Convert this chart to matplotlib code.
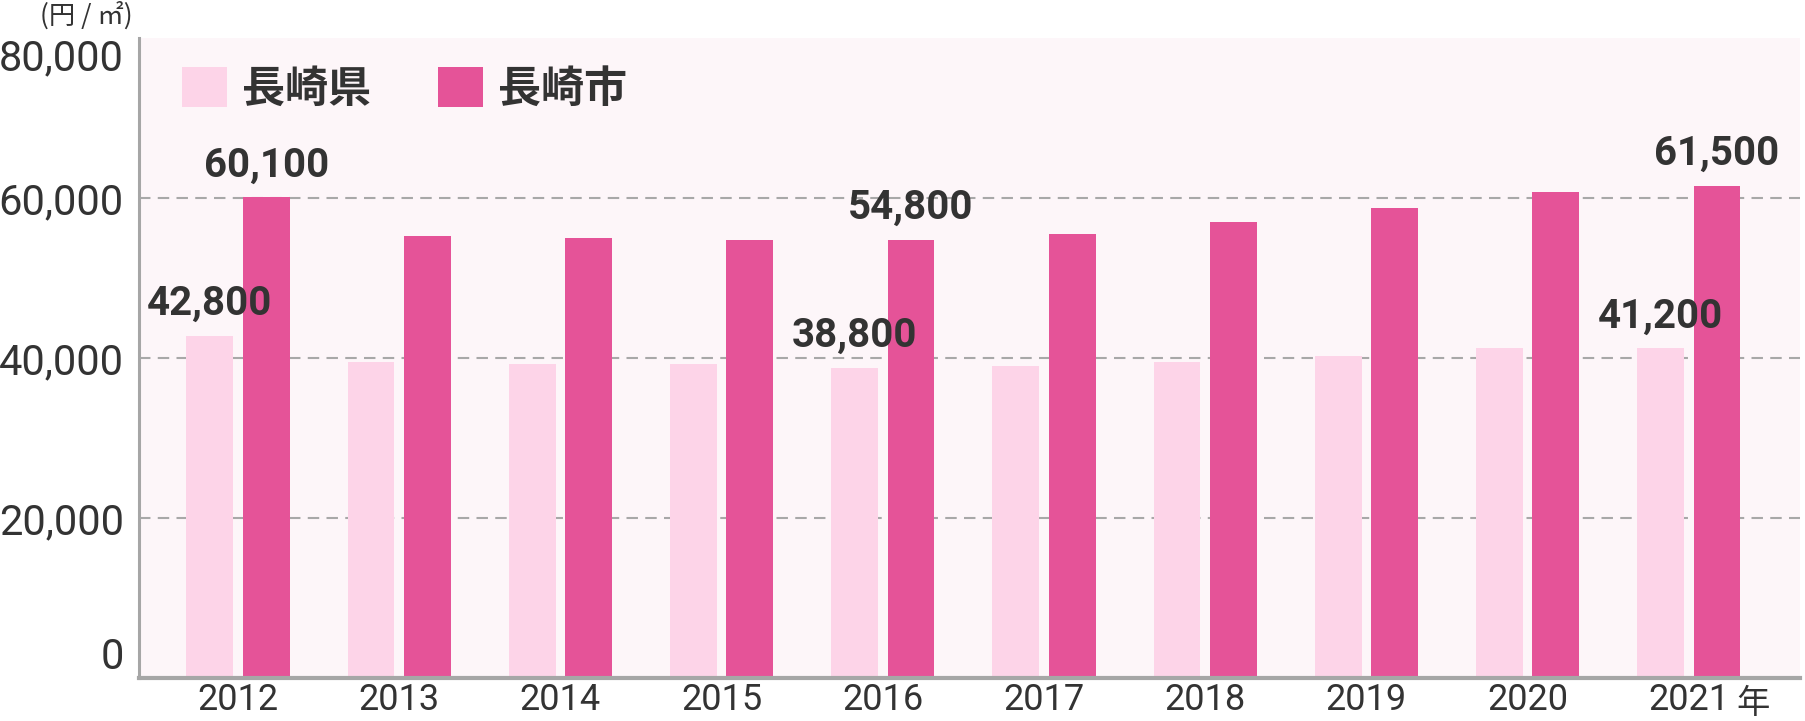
import matplotlib
matplotlib.use("Agg")
import matplotlib.pyplot as plt
import numpy as np
from matplotlib.patches import Patch

# ---- data ----
years = ["2012", "2013", "2014", "2015", "2016", "2017", "2018", "2019", "2020", "2021"]
pref_values = [42800, 39500, 39200, 39200, 38800, 39000, 39500, 40300, 41200, 41200]   # 長崎県
city_values = [60100, 55200, 55000, 54800, 54800, 55500, 57000, 58700, 60700, 61500]   # 長崎市
labeled_idx = [0, 4, 9]
series_names = ["長崎県", "長崎市"]
y_ticks = [0, 20000, 40000, 60000, 80000]
unit_label = "(円 / ㎡)"
x_unit = "年"

# ---- style ----
C_LIGHT = "#fdd4e8"
C_DARK = "#e55398"
C_BG = "#fdf6f9"
C_TEXT = "#333333"
C_AXIS = "#a6a6a6"
NUM_FONT = ["Roboto", "DejaVu Sans"]
JP_FONT = ["Noto Sans CJK JP", "DejaVu Sans"]

W, H = 1806, 721
fig = plt.figure(figsize=(W / 100, H / 100), dpi=100)
fig.patch.set_facecolor("white")
ax = fig.add_axes([139 / W, 43 / H, 1661 / W, 640 / H])
ax.set_facecolor(C_BG)

x = np.arange(len(years))
bw = 0.29
off = 0.175
ax.bar(x - off, pref_values, bw, color=C_LIGHT, zorder=2, label=series_names[0])
ax.bar(x + off, city_values, bw, color=C_DARK, zorder=2, label=series_names[1])

ax.set_xlim(-0.614, 9.69)
ax.set_ylim(y_ticks[0], y_ticks[-1])

for v in y_ticks[1:-1]:
    ax.axhline(v, color="#a8a8a8", lw=1.5, linestyle=(0, (5.5, 3.5)), zorder=1)

for s in ["top", "right"]:
    ax.spines[s].set_visible(False)
ax.spines["left"].set_color(C_AXIS)
ax.spines["left"].set_linewidth(2.2)
ax.spines["bottom"].set_color(C_AXIS)
ax.spines["bottom"].set_linewidth(3)
ax.spines["left"].set_zorder(3)
ax.spines["bottom"].set_zorder(3)

ax.set_yticks(y_ticks)
ax.set_yticklabels([f"{v:,}" for v in y_ticks], family=NUM_FONT, fontweight="normal",
                   fontsize=30, color=C_TEXT)
ax.set_xticks(x)
ax.set_xticklabels(years, family=NUM_FONT, fontweight="normal", fontsize=26, color=C_TEXT)
ax.tick_params(axis="both", length=0)
ax.tick_params(axis="y", pad=11)
ax.tick_params(axis="x", pad=3)
ylabels = ax.get_yticklabels()
ylabels[0].set_verticalalignment("bottom")
ylabels[-1].set_verticalalignment("top")

# value labels
for i in labeled_idx:
    for xs, vals in ((x - off, pref_values), (x + off, city_values)):
        ax.annotate(f"{vals[i]:,}", xy=(xs[i], vals[i]), xytext=(0, 15),
                    textcoords="offset points", ha="center", va="baseline",
                    family=NUM_FONT, fontweight="bold", fontsize=29, color=C_TEXT,
                    zorder=5)

# legend
handles = [Patch(facecolor=C_LIGHT, edgecolor="none"), Patch(facecolor=C_DARK, edgecolor="none")]
leg = ax.legend(handles, series_names, loc="upper left", bbox_to_anchor=(0.0258, 0.955),
                ncol=2, frameon=False, borderaxespad=0, borderpad=0,
                handlelength=1.05, handleheight=1.05, handletextpad=0.35,
                columnspacing=1.55, prop={"family": JP_FONT, "weight": "bold", "size": 31})
for t in leg.get_texts():
    t.set_color(C_TEXT)

# unit labels
ax.annotate(unit_label, xy=(0, 1), xycoords="axes fraction", xytext=(-38, 16),
            textcoords="offset points", ha="center", va="center",
            family=JP_FONT, fontsize=19, color=C_TEXT)
ax.annotate(x_unit, xy=(1, 0), xycoords="axes fraction", xytext=(-34, -18),
            textcoords="offset points", ha="center", va="center",
            family=JP_FONT, fontsize=24, color=C_TEXT)

fig.savefig("out.png", dpi=100, facecolor="white")
